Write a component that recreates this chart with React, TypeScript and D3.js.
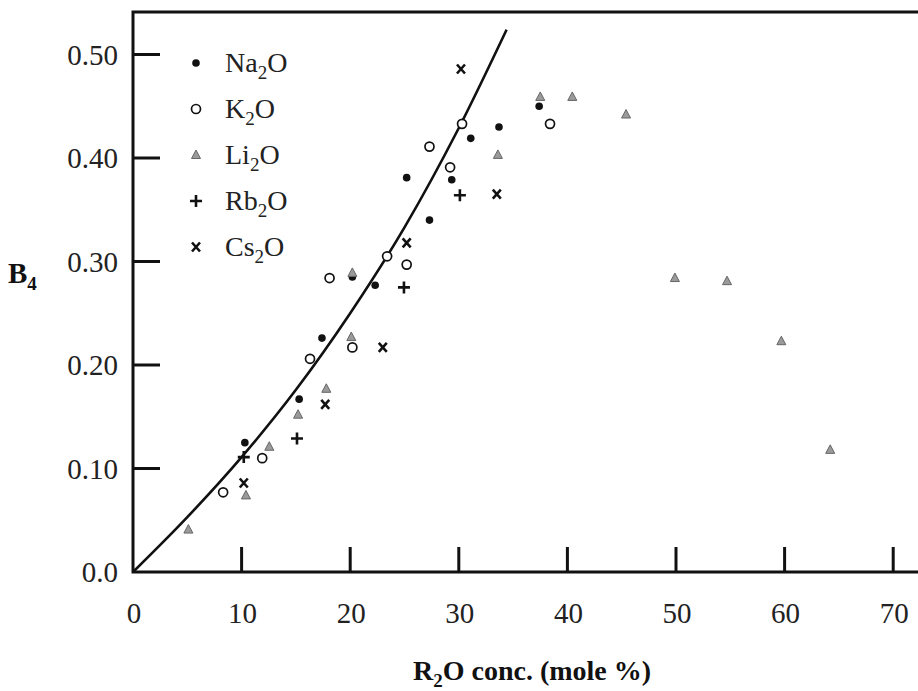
import React from "react";
import * as d3 from "d3";

const naX = [10.3, 15.3, 17.4, 20.2, 22.3, 25.2, 27.3, 29.35, 31.1, 33.7, 37.4];
const naY = [0.125, 0.167, 0.226, 0.285, 0.277, 0.381, 0.34, 0.379, 0.419, 0.43, 0.45];

const kX = [8.3, 11.9, 16.3, 18.1, 20.2, 23.4, 25.2, 27.3, 29.2, 30.3, 38.4];
const kY = [0.077, 0.11, 0.206, 0.284, 0.217, 0.305, 0.297, 0.411, 0.391, 0.433, 0.433];

const liX = [5.1, 10.4, 12.55, 15.2, 17.8, 20.1, 20.2, 33.6, 37.5, 40.45, 45.4, 49.9, 54.7, 59.7, 64.2];
const liY = [0.041, 0.074, 0.121, 0.152, 0.177, 0.227, 0.289, 0.403, 0.459, 0.459, 0.442, 0.284, 0.281, 0.223, 0.118];

const rbX = [10.2, 15.1, 24.95, 30.1];
const rbY = [0.111, 0.129, 0.275, 0.364];

const csX = [10.2, 17.7, 23.0, 25.2, 30.2, 33.5];
const csY = [0.086, 0.162, 0.217, 0.318, 0.486, 0.365];

// model curve
const curveX = [0, 5, 10, 15, 20, 25, 30, 34.4];
const curveY = [0, 0.053, 0.111, 0.176, 0.25, 0.333, 0.429, 0.524];

const xTicks = [0, 10, 20, 30, 40, 50, 60, 70];
const yTicks = [0, 0.1, 0.2, 0.3, 0.4, 0.5];
const yTickLabels = ["0.0", "0.10", "0.20", "0.30", "0.40", "0.50"];

const legendItems = [
  { key: "na", base: "Na", sub: "2", tail: "O" },
  { key: "k", base: "K", sub: "2", tail: "O" },
  { key: "li", base: "Li", sub: "2", tail: "O" },
  { key: "rb", base: "Rb", sub: "2", tail: "O" },
  { key: "cs", base: "Cs", sub: "2", tail: "O" },
];

const W = 918;
const H = 691;
const left = 133;
const top = 12;
const bottom = 572;
const serif = "Liberation Serif, Times New Roman, serif";

const Marker = ({ kind, x, y }) => {
  if (kind === "na") return <circle cx={x} cy={y} r={3.8} fill="#111" />;
  if (kind === "k")
    return <circle cx={x} cy={y} r={4.5} fill="white" stroke="#111" strokeWidth={1.7} />;
  if (kind === "li")
    return (
      <path
        d={`M${x},${y - 5} L${x + 4.5},${y + 3.5} L${x - 4.5},${y + 3.5} Z`}
        fill="#9a9a9a"
        stroke="#666"
        strokeWidth={1}
      />
    );
  if (kind === "rb")
    return (
      <path
        d={`M${x - 6},${y} H${x + 6} M${x},${y - 6} V${y + 6}`}
        stroke="#111"
        strokeWidth={2.6}
      />
    );
  return (
    <path
      d={`M${x - 4},${y - 4.5} L${x + 4},${y + 4.5} M${x + 4},${y - 4.5} L${x - 4},${y + 4.5}`}
      stroke="#111"
      strokeWidth={2.6}
    />
  );
};

const App = () => {
  const x = d3.scaleLinear().domain([0, 70]).range([left, left + 7 * 108.6]);
  const y = d3.scaleLinear().domain([0, 0.5]).range([bottom, 54.5]);

  const line = d3
    .line()
    .x((d) => x(d[0]))
    .y((d) => y(d[1]))
    .curve(d3.curveMonotoneX);

  const series = [
    { kind: "na", xs: naX, ys: naY },
    { kind: "k", xs: kX, ys: kY },
    { kind: "li", xs: liX, ys: liY },
    { kind: "rb", xs: rbX, ys: rbY },
    { kind: "cs", xs: csX, ys: csY },
  ];

  return (
    <svg
      width={W}
      height={H}
      style={{ position: "absolute", left: 0, top: 0, background: "white" }}
      fontFamily={serif}
    >
      {/* frame */}
      <path
        d={`M${W},${top} H${left} V${bottom} H${W}`}
        fill="none"
        stroke="#111"
        strokeWidth={3}
      />

      {/* y ticks */}
      {yTicks.map((t, i) => (
        <g key={i}>
          {i > 0 && <line x1={left} x2={left + 27} y1={y(t)} y2={y(t)} stroke="#111" strokeWidth={3} />}
          <text x={118} y={y(t) + 10} textAnchor="end" fontSize={29} fill="#222">
            {yTickLabels[i]}
          </text>
        </g>
      ))}

      {/* x ticks */}
      {xTicks.map((t, i) => (
        <g key={i}>
          {i > 0 && <line x1={x(t)} x2={x(t)} y1={bottom} y2={bottom - 25} stroke="#111" strokeWidth={3} />}
          <text x={x(t) + 1} y={623} textAnchor="middle" fontSize={29} fill="#222">
            {t}
          </text>
        </g>
      ))}

      {/* axis titles */}
      <text x={8} y={283} fontSize={29} fontWeight="bold" fill="#111">
        B<tspan fontSize={19} dy={7}>4</tspan>
      </text>
      <text x={532} y={680} textAnchor="middle" fontSize={28} fontWeight="bold" fill="#111">
        R<tspan fontSize={19} dy={7}>2</tspan>
        <tspan dy={-7}>O conc. (mole %)</tspan>
      </text>

      {/* curve */}
      <path
        d={line(curveX.map((v, i) => [v, curveY[i]]))}
        fill="none"
        stroke="#111"
        strokeWidth={2.6}
      />

      {/* points */}
      {series.map((s) =>
        s.xs.map((v, i) => <Marker key={s.kind + i} kind={s.kind} x={x(v)} y={y(s.ys[i])} />)
      )}

      {/* legend */}
      {legendItems.map((d, i) => {
        const cy = 63 + i * 46;
        return (
          <g key={d.key}>
            <Marker kind={d.key} x={196} y={cy} />
            <text x={225} y={cy + 9} fontSize={28} fill="#222">
              {d.base}
              <tspan fontSize={19} dy={7}>{d.sub}</tspan>
              <tspan dy={-7}>{d.tail}</tspan>
            </text>
          </g>
        );
      })}
    </svg>
  );
};

export default App;
